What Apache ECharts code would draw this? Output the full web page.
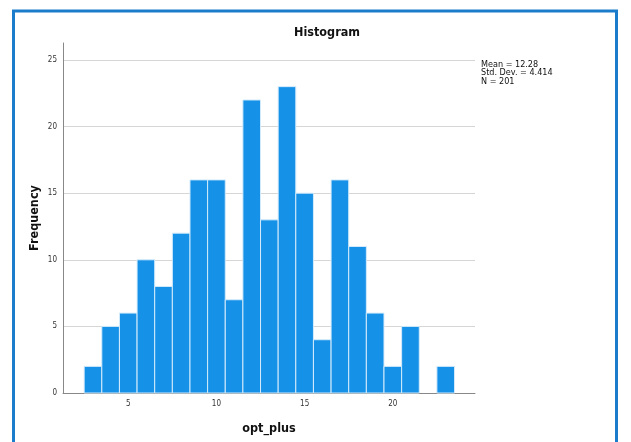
<!DOCTYPE html>
<html><head><meta charset="utf-8">
<script src="https://cdn.jsdelivr.net/npm/echarts@6/dist/echarts.min.js"></script>
<style>html,body{margin:0;padding:0;background:#fff}#c{width:631px;height:442px}</style>
</head><body><div id="c"></div>
<script>
const binCenters = [3,4,5,6,7,8,9,10,11,12,13,14,15,16,17,18,19,20,21,22,23];
const frequencies = [2,5,6,10,8,12,16,16,7,22,13,23,15,4,16,11,6,2,5,0,2];
const yTicks = [0,5,10,15,20,25];
const statsLines = ['Mean = 12.28','Std. Dev. = 4.414','N = 201'];
const binWidth = 1;

const chart = echarts.init(document.getElementById('c'), null, {renderer:'canvas'});
const narrow = "'Liberation Sans Narrow','DejaVu Sans Condensed',sans-serif";
const data = binCenters.map((c,i)=>[c, frequencies[i]]);
chart.setOption({
  animation:false,
  backgroundColor:'#fff',
  title:{text:'Histogram', left:322, top:21, textAlign:'center',
    textStyle:{fontFamily:narrow, fontWeight:'bold', fontSize:12.5, color:'#111'}},
  grid:[
    {left:63, right:156, top:60, bottom:49},
    {left:63, right:156, top:43, bottom:49}
  ],
  xAxis:[
    {gridIndex:0, type:'value', min:1.3, max:24.66, splitNumber:5,
     name:'opt_plus', nameLocation:'middle', nameGap:29,
     nameTextStyle:{fontFamily:narrow, fontWeight:'bold', fontSize:12.5, color:'#111'},
     axisLine:{lineStyle:{color:'#888', width:1}}, axisTick:{show:false}, splitLine:{show:false},
     axisLabel:{fontFamily:narrow, fontSize:8, color:'#333', margin:7,
       formatter:v=> (Math.abs(v%5)<1e-9 ? String(v) : '')}},
    {gridIndex:1, type:'value', min:1.3, max:24.66, show:false}
  ],
  yAxis:[
    {gridIndex:0, type:'value', min:0, max:25, interval:5,
     axisLine:{show:false}, axisTick:{show:false},
     splitLine:{show:true, lineStyle:{color:'#d6d6d6', width:1}},
     axisLabel:{fontFamily:narrow, fontSize:8, color:'#333', margin:6,
       formatter:v=> yTicks.includes(v) ? String(v) : ''}},
    {gridIndex:1, type:'value', min:0, max:26.3,
     name:'Frequency', nameLocation:'middle', nameGap:22, nameRotate:90,
     nameTextStyle:{fontFamily:narrow, fontWeight:'bold', fontSize:12.5, color:'#111'},
     axisLine:{show:true, lineStyle:{color:'#888', width:1}}, axisTick:{show:false},
     axisLabel:{show:false}, splitLine:{show:false}}
  ],
  series:[{
    type:'custom', xAxisIndex:0, yAxisIndex:0, data:data,
    renderItem:(params, api)=>{
      const x = api.value(0), y = api.value(1);
      if (!y) return null;
      const p0 = api.coord([x - binWidth/2, y]);
      const p1 = api.coord([x + binWidth/2, 0]);
      return {type:'rect', shape:{x:p0[0], y:p0[1], width:p1[0]-p0[0], height:p1[1]-p0[1]},
        style:{fill:'#1591e8', stroke:'#d4ebfb', lineWidth:1}};
    }
  }],
  graphic:[
    {type:'rect', shape:{x:13.5, y:11, width:603, height:450},
     style:{fill:'none', stroke:'#1c7ccc', lineWidth:3}, silent:true},
    {type:'text', left:481, top:60,
     style:{text:statsLines.join('\n'), fontFamily:narrow, fontSize:9, lineHeight:8.5, fill:'#111'}}
  ]
});
</script></body></html>
